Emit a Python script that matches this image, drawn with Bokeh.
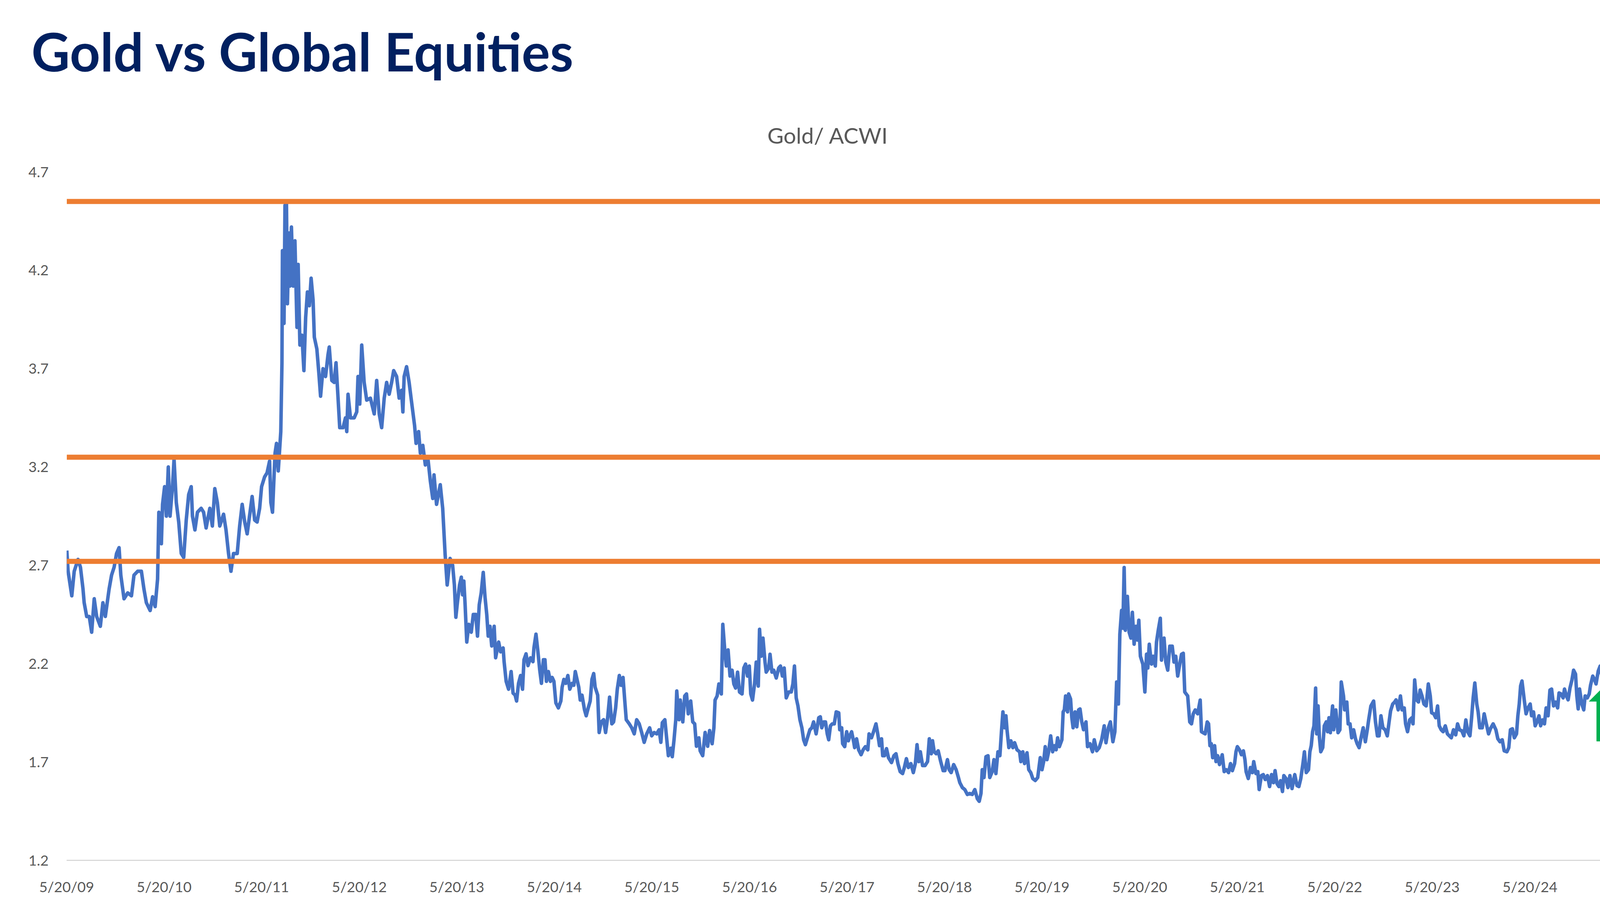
from datetime import datetime, timedelta
from bokeh.plotting import figure
from bokeh.models import Range1d, FixedTicker, Title, ColumnDataSource
from bokeh.embed import file_html
from bokeh.resources import INLINE

# ---------------- data (decimal year, Gold/ACWI ratio) ----------------
t_2009_2013 = [2009.383, 2009.396, 2009.434, 2009.459, 2009.498, 2009.523, 2009.549, 2009.561, 2009.587, 2009.613,
               2009.638, 2009.664, 2009.689, 2009.727, 2009.753, 2009.778, 2009.817, 2009.842, 2009.868, 2009.893,
               2009.919, 2009.937, 2009.970, 2010.008, 2010.046, 2010.072, 2010.110, 2010.148, 2010.174, 2010.199,
               2010.238, 2010.263, 2010.289, 2010.314, 2010.327, 2010.353, 2010.365, 2010.386, 2010.404, 2010.424,
               2010.442, 2010.467, 2010.483, 2010.506, 2010.531, 2010.557, 2010.582, 2010.608, 2010.633, 2010.659,
               2010.672, 2010.697, 2010.723, 2010.761, 2010.786, 2010.812, 2010.850, 2010.876, 2010.901, 2010.927,
               2010.952, 2010.991, 2011.016, 2011.042, 2011.067, 2011.093, 2011.131, 2011.156, 2011.182, 2011.208,
               2011.233, 2011.284, 2011.310, 2011.335, 2011.361, 2011.381, 2011.412, 2011.437, 2011.463, 2011.476,
               2011.493, 2011.519, 2011.534, 2011.552, 2011.578, 2011.590, 2011.595, 2011.611, 2011.621, 2011.636,
               2011.646, 2011.662, 2011.672, 2011.687, 2011.705, 2011.723, 2011.744, 2011.756, 2011.774, 2011.795,
               2011.815, 2011.833, 2011.851, 2011.871, 2011.889, 2011.909, 2011.922, 2011.948, 2011.968, 2011.986,
               2012.011, 2012.037, 2012.062, 2012.075, 2012.101, 2012.126, 2012.144, 2012.165, 2012.182, 2012.216,
               2012.241, 2012.254, 2012.267, 2012.292, 2012.330, 2012.356, 2012.369, 2012.387, 2012.407, 2012.432,
               2012.458, 2012.496, 2012.535, 2012.560, 2012.586, 2012.611, 2012.637, 2012.662, 2012.688, 2012.713,
               2012.734, 2012.764, 2012.790, 2012.815, 2012.828, 2012.841, 2012.866, 2012.892, 2012.912, 2012.930,
               2012.948, 2012.963, 2012.989, 2013.007, 2013.032, 2013.058, 2013.083, 2013.109, 2013.134, 2013.147,
               2013.173, 2013.211, 2013.236]
v_2009_2013 = [2.775, 2.67, 2.545, 2.67, 2.73, 2.69, 2.58, 2.51, 2.44, 2.44,
               2.36, 2.53, 2.44, 2.39, 2.51, 2.44, 2.58, 2.65, 2.69, 2.76,
               2.79, 2.65, 2.53, 2.56, 2.545, 2.65, 2.67, 2.67, 2.58, 2.51,
               2.47, 2.54, 2.49, 2.63, 2.97, 2.81, 3.01, 3.10, 2.95, 3.20,
               2.95, 3.10, 3.24, 3.02, 2.92, 2.76, 2.74, 2.93, 3.06, 3.10,
               2.95, 2.88, 2.97, 2.99, 2.97, 2.89, 2.99, 2.90, 3.09, 3.02,
               2.90, 2.96, 2.88, 2.76, 2.67, 2.76, 2.76, 2.90, 3.01, 2.92,
               2.86, 3.05, 2.93, 2.92, 2.99, 3.10, 3.15, 3.17, 3.23, 3.02,
               2.97, 3.27, 3.32, 3.18, 3.38, 3.73, 4.30, 3.93, 4.53, 4.55,
               4.03, 4.39, 4.12, 4.42, 4.12, 4.35, 3.91, 4.23, 3.82, 3.87,
               3.69, 3.96, 4.09, 4.02, 4.16, 4.05, 3.86, 3.80, 3.68, 3.56,
               3.70, 3.66, 3.77, 3.81, 3.64, 3.63, 3.73, 3.55, 3.40, 3.40,
               3.45, 3.38, 3.57, 3.45, 3.45, 3.48, 3.66, 3.52, 3.82, 3.63,
               3.54, 3.55, 3.47, 3.64, 3.47, 3.40, 3.55, 3.63, 3.57, 3.63,
               3.69, 3.66, 3.55, 3.59, 3.48, 3.66, 3.71, 3.63, 3.55, 3.48,
               3.41, 3.32, 3.38, 3.27, 3.31, 3.21, 3.25, 3.13, 3.04, 3.16,
               3.01, 3.11, 2.99]

t_2013_2017 = [2013.261, 2013.282, 2013.312, 2013.338, 2013.356, 2013.371, 2013.389, 2013.409, 2013.427, 2013.440,
               2013.453, 2013.466, 2013.483, 2013.504, 2013.529, 2013.550, 2013.575, 2013.593, 2013.611, 2013.631,
               2013.652, 2013.670, 2013.688, 2013.703, 2013.721, 2013.739, 2013.764, 2013.779, 2013.810, 2013.830,
               2013.856, 2013.866, 2013.887, 2013.912, 2013.938, 2013.958, 2013.979, 2013.994, 2014.014, 2014.035,
               2014.055, 2014.070, 2014.091, 2014.111, 2014.137, 2014.162, 2014.172, 2014.193, 2014.213, 2014.231,
               2014.249, 2014.269, 2014.285, 2014.300, 2014.320, 2014.341, 2014.359, 2014.377, 2014.397, 2014.423,
               2014.448, 2014.461, 2014.479, 2014.499, 2014.520, 2014.540, 2014.563, 2014.581, 2014.596, 2014.614,
               2014.632, 2014.647, 2014.665, 2014.691, 2014.708, 2014.729, 2014.749, 2014.767, 2014.785, 2014.800,
               2014.826, 2014.841, 2014.862, 2014.887, 2014.907, 2014.928, 2014.948, 2014.971, 2014.989, 2015.010,
               2015.027, 2015.048, 2015.066, 2015.086, 2015.104, 2015.119, 2015.150, 2015.175, 2015.201, 2015.226,
               2015.252, 2015.277, 2015.303, 2015.329, 2015.359, 2015.380, 2015.405, 2015.431, 2015.456, 2015.474,
               2015.489, 2015.515, 2015.533, 2015.551, 2015.576, 2015.591, 2015.609, 2015.627, 2015.637, 2015.660,
               2015.673, 2015.699, 2015.719, 2015.737, 2015.755, 2015.780, 2015.801, 2015.821, 2015.839, 2015.864,
               2015.877, 2015.903, 2015.928, 2015.954, 2015.974, 2016.000, 2016.018, 2016.030, 2016.051, 2016.069,
               2016.094, 2016.109, 2016.132, 2016.145, 2016.163, 2016.183, 2016.204, 2016.222, 2016.240, 2016.260,
               2016.280, 2016.306, 2016.324, 2016.342, 2016.362, 2016.380, 2016.395, 2016.413, 2016.434, 2016.451,
               2016.472, 2016.485, 2016.502, 2016.520, 2016.541, 2016.553, 2016.579, 2016.592, 2016.612, 2016.630,
               2016.656, 2016.681, 2016.699, 2016.719, 2016.737, 2016.758, 2016.783, 2016.809, 2016.826, 2016.842,
               2016.860, 2016.878, 2016.898, 2016.918, 2016.936, 2016.954, 2016.975, 2017.000, 2017.020, 2017.038,
               2017.064]
v_2013_2017 = [2.755, 2.60, 2.735, 2.70, 2.60, 2.436, 2.52, 2.60, 2.64, 2.55,
               2.62, 2.50, 2.31, 2.40, 2.36, 2.45, 2.45, 2.34, 2.50, 2.56,
               2.664, 2.54, 2.45, 2.34, 2.39, 2.29, 2.39, 2.23, 2.31, 2.26,
               2.28, 2.21, 2.11, 2.07, 2.16, 2.05, 2.04, 2.01, 2.10, 2.14,
               2.07, 2.22, 2.25, 2.19, 2.23, 2.21, 2.28, 2.35, 2.26, 2.17,
               2.10, 2.22, 2.22, 2.11, 2.16, 2.11, 2.13, 2.11, 2.00, 1.975,
               2.01, 2.08, 2.12, 2.10, 2.14, 2.07, 2.10, 2.09, 2.16, 2.12,
               2.08, 2.015, 2.04, 1.965, 1.935, 1.975, 2.01, 2.12, 2.15, 2.08,
               2.04, 1.85, 1.904, 1.915, 1.85, 1.925, 2.03, 1.894, 1.904, 1.975,
               2.07, 2.14, 2.09, 2.13, 2.01, 1.915, 1.894, 1.874, 1.843, 1.915,
               1.894, 1.85, 1.80, 1.843, 1.874, 1.833, 1.85, 1.843, 1.864, 1.80,
               1.90, 1.915, 1.823, 1.732, 1.77, 1.727, 1.813, 1.915, 2.061, 1.915,
               2.015, 1.904, 2.036, 2.046, 1.945, 2.01, 1.904, 1.894, 1.78, 1.823,
               1.757, 1.732, 1.85, 1.78, 1.86, 1.793, 1.874, 2.015, 2.036, 2.097,
               2.046, 2.40, 2.25, 2.188, 2.27, 2.137, 2.167, 2.097, 2.076, 2.157,
               2.056, 2.046, 2.178, 2.198, 2.137, 2.188, 2.046, 2.015, 2.097, 2.208,
               2.086, 2.375, 2.238, 2.33, 2.208, 2.157, 2.178, 2.248, 2.157, 2.167,
               2.127, 2.178, 2.188, 2.137, 2.178, 2.026, 2.056, 2.056, 2.097, 2.188,
               2.026, 1.985, 1.915, 1.874, 1.813, 1.788, 1.823, 1.864, 1.874, 1.904,
               1.843]

t_2017_2021 = [2017.091, 2017.107, 2017.122, 2017.142, 2017.160, 2017.178, 2017.193, 2017.211, 2017.229, 2017.250,
               2017.270, 2017.296, 2017.306, 2017.326, 2017.336, 2017.357, 2017.377, 2017.395, 2017.410, 2017.428,
               2017.449, 2017.459, 2017.479, 2017.500, 2017.525, 2017.546, 2017.569, 2017.594, 2017.607, 2017.632,
               2017.653, 2017.678, 2017.696, 2017.714, 2017.735, 2017.747, 2017.765, 2017.786, 2017.806, 2017.837,
               2017.862, 2017.883, 2017.903, 2017.926, 2017.951, 2017.969, 2017.990, 2018.010, 2018.036, 2018.061,
               2018.082, 2018.099, 2018.117, 2018.133, 2018.156, 2018.181, 2018.207, 2018.225, 2018.245, 2018.258,
               2018.275, 2018.296, 2018.316, 2018.342, 2018.367, 2018.385, 2018.411, 2018.429, 2018.449, 2018.475,
               2018.500, 2018.521, 2018.538, 2018.564, 2018.589, 2018.615, 2018.640, 2018.666, 2018.692, 2018.717,
               2018.737, 2018.755, 2018.768, 2018.786, 2018.806, 2018.827, 2018.845, 2018.870, 2018.888, 2018.908,
               2018.929, 2018.949, 2018.965, 2018.980, 2018.998, 2019.011, 2019.023, 2019.041, 2019.062, 2019.082,
               2019.100, 2019.125, 2019.151, 2019.164, 2019.184, 2019.202, 2019.227, 2019.245, 2019.266, 2019.286,
               2019.312, 2019.337, 2019.350, 2019.363, 2019.381, 2019.398, 2019.414, 2019.432, 2019.449, 2019.470,
               2019.490, 2019.508, 2019.526, 2019.541, 2019.559, 2019.585, 2019.598, 2019.610, 2019.623, 2019.643,
               2019.654, 2019.674, 2019.687, 2019.700, 2019.720, 2019.738, 2019.756, 2019.771, 2019.789, 2019.807,
               2019.832, 2019.848, 2019.873, 2019.899, 2019.917, 2019.942, 2019.968, 2019.993, 2020.019, 2020.037,
               2020.062, 2020.082, 2020.108, 2020.128, 2020.146, 2020.164, 2020.179, 2020.197, 2020.210, 2020.223,
               2020.235, 2020.256, 2020.274, 2020.292, 2020.307, 2020.325, 2020.343, 2020.358, 2020.373, 2020.389,
               2020.414, 2020.435, 2020.452, 2020.465, 2020.480, 2020.503, 2020.521, 2020.542, 2020.554, 2020.572,
               2020.593, 2020.605, 2020.631, 2020.649, 2020.669, 2020.690, 2020.715, 2020.733, 2020.751, 2020.771,
               2020.792, 2020.810, 2020.828, 2020.843, 2020.873, 2020.894, 2020.912, 2020.930, 2020.950, 2020.975,
               2021.001, 2021.014, 2021.052]
v_2017_2021 = [1.925, 1.93, 1.874, 1.904, 1.904, 1.843, 1.813, 1.884, 1.894, 1.894,
               1.955, 1.95, 1.864, 1.874, 1.793, 1.778, 1.854, 1.808, 1.833, 1.854,
               1.803, 1.773, 1.818, 1.762, 1.737, 1.762, 1.778, 1.762, 1.843, 1.823,
               1.854, 1.894, 1.843, 1.783, 1.818, 1.732, 1.732, 1.768, 1.722, 1.697,
               1.732, 1.742, 1.692, 1.651, 1.641, 1.672, 1.717, 1.672, 1.692, 1.646,
               1.692, 1.788, 1.702, 1.752, 1.682, 1.682, 1.702, 1.818, 1.742, 1.808,
               1.752, 1.742, 1.757, 1.702, 1.656, 1.656, 1.712, 1.661, 1.646, 1.687,
               1.661, 1.626, 1.595, 1.57, 1.56, 1.535, 1.54, 1.535, 1.56, 1.514,
               1.50, 1.54, 1.661, 1.621, 1.727, 1.732, 1.621, 1.651, 1.712, 1.641,
               1.752, 1.732, 1.854, 1.955, 1.874, 1.935, 1.859, 1.773, 1.808, 1.773,
               1.798, 1.762, 1.752, 1.702, 1.752, 1.692, 1.747, 1.661, 1.646, 1.616,
               1.606, 1.621, 1.672, 1.722, 1.661, 1.702, 1.778, 1.712, 1.752, 1.833,
               1.752, 1.783, 1.762, 1.823, 1.778, 1.813, 1.955, 1.965, 2.036, 1.955,
               2.046, 2.02, 1.925, 1.874, 1.955, 1.879, 1.965, 1.97, 1.904, 1.864,
               1.904, 1.778, 1.793, 1.752, 1.813, 1.757, 1.773, 1.813, 1.884, 1.798,
               1.874, 1.904, 1.803, 1.854, 2.107, 1.995, 2.35, 2.471, 2.38, 2.689,
               2.37, 2.542, 2.36, 2.33, 2.461, 2.299, 2.39, 2.32, 2.421, 2.238,
               2.198, 2.056, 2.248, 2.178, 2.299, 2.198, 2.238, 2.188, 2.31, 2.37,
               2.431, 2.218, 2.33, 2.208, 2.167, 2.289, 2.289, 2.208, 2.238, 2.137,
               2.198, 2.248, 2.253, 2.056, 2.036, 1.904, 1.894, 1.945, 1.965, 1.945,
               2.015, 1.854, 1.843]

t_2021_2025 = [2021.073, 2021.087, 2021.101, 2021.115, 2021.129, 2021.149, 2021.163, 2021.180, 2021.199, 2021.227,
               2021.247, 2021.269, 2021.292, 2021.312, 2021.331, 2021.354, 2021.368, 2021.382, 2021.404, 2021.424,
               2021.444, 2021.460, 2021.472, 2021.494, 2021.516, 2021.536, 2021.550, 2021.573, 2021.592, 2021.606,
               2021.629, 2021.648, 2021.668, 2021.691, 2021.713, 2021.733, 2021.752, 2021.769, 2021.789, 2021.808,
               2021.825, 2021.845, 2021.859, 2021.881, 2021.901, 2021.921, 2021.943, 2021.971, 2021.994, 2022.013,
               2022.033, 2022.055, 2022.070, 2022.089, 2022.112, 2022.126, 2022.140, 2022.154, 2022.168, 2022.185,
               2022.196, 2022.210, 2022.224, 2022.238, 2022.258, 2022.274, 2022.294, 2022.308, 2022.322, 2022.336,
               2022.359, 2022.370, 2022.392, 2022.415, 2022.434, 2022.448, 2022.471, 2022.482, 2022.505, 2022.519,
               2022.538, 2022.555, 2022.575, 2022.594, 2022.611, 2022.631, 2022.651, 2022.673, 2022.695, 2022.715,
               2022.729, 2022.752, 2022.780, 2022.799, 2022.819, 2022.836, 2022.855, 2022.875, 2022.898, 2022.920,
               2022.940, 2022.954, 2022.976, 2022.996, 2023.010, 2023.032, 2023.055, 2023.072, 2023.094, 2023.108,
               2023.128, 2023.150, 2023.173, 2023.184, 2023.201, 2023.220, 2023.240, 2023.257, 2023.276, 2023.296,
               2023.319, 2023.341, 2023.361, 2023.375, 2023.397, 2023.417, 2023.436, 2023.453, 2023.473, 2023.493,
               2023.515, 2023.537, 2023.557, 2023.577, 2023.599, 2023.622, 2023.641, 2023.661, 2023.684, 2023.706,
               2023.726, 2023.745, 2023.768, 2023.785, 2023.801, 2023.818, 2023.838, 2023.852, 2023.869, 2023.894,
               2023.914, 2023.936, 2023.959, 2023.978, 2024.006, 2024.034, 2024.054, 2024.076, 2024.099, 2024.119,
               2024.147, 2024.166, 2024.183, 2024.203, 2024.223, 2024.245, 2024.259, 2024.273, 2024.287, 2024.301,
               2024.324, 2024.343, 2024.363, 2024.385, 2024.399, 2024.419, 2024.436, 2024.455, 2024.475, 2024.492,
               2024.512, 2024.531, 2024.548, 2024.568, 2024.587, 2024.604, 2024.624, 2024.644, 2024.666, 2024.680,
               2024.700, 2024.722, 2024.736, 2024.756, 2024.773, 2024.792, 2024.812, 2024.829, 2024.849, 2024.862,
               2024.876, 2024.890, 2024.913, 2024.933, 2024.947, 2024.969, 2024.989, 2025.003, 2025.025, 2025.045,
               2025.059, 2025.081, 2025.101, 2025.115, 2025.129, 2025.143, 2025.160, 2025.177, 2025.188, 2025.199,
               2025.213, 2025.227, 2025.239, 2025.250, 2025.261, 2025.269, 2025.275]
v_2021_2025 = [1.904, 1.894, 1.783, 1.793, 1.722, 1.783, 1.702, 1.732, 1.687, 1.737,
               1.651, 1.661, 1.646, 1.692, 1.656, 1.692, 1.752, 1.778, 1.762, 1.737,
               1.757, 1.712, 1.651, 1.616, 1.672, 1.646, 1.702, 1.641, 1.651, 1.56,
               1.631, 1.636, 1.611, 1.631, 1.575, 1.636, 1.595, 1.656, 1.59, 1.575,
               1.605, 1.55, 1.631, 1.616, 1.57, 1.631, 1.565, 1.636, 1.58, 1.575,
               1.616, 1.692, 1.752, 1.646, 1.661, 1.752, 1.783, 1.854, 1.884, 2.076,
               1.843, 1.985, 1.823, 1.752, 1.773, 1.884, 1.904, 1.854, 1.925, 1.849,
               1.985, 1.864, 1.965, 1.849, 1.864, 2.107, 2.036, 1.965, 2.005, 1.894,
               1.894, 1.823, 1.864, 1.818, 1.793, 1.773, 1.823, 1.874, 1.803, 1.864,
               1.914, 1.985, 2.01, 1.904, 1.833, 1.833, 1.935, 1.874, 1.864, 1.833,
               1.909, 1.96, 1.995, 2.005, 2.016, 1.965, 2.036, 1.965, 1.975, 1.894,
               1.854, 1.914, 1.925, 1.894, 2.117, 2.016, 2.005, 2.066, 2.036, 1.995,
               1.985, 2.097, 2.036, 1.95, 1.945, 1.925, 1.985, 1.884, 1.864, 1.854,
               1.884, 1.843, 1.833, 1.823, 1.864, 1.838, 1.894, 1.864, 1.859, 1.833,
               1.914, 1.854, 1.833, 1.925, 2.026, 2.102, 1.995, 1.955, 1.874, 1.874,
               1.945, 1.894, 1.843, 1.869, 1.894, 1.864, 1.818, 1.803, 1.813, 1.757,
               1.752, 1.773, 1.864, 1.869, 1.823, 1.843, 1.935, 1.995, 2.087, 2.112,
               2.016, 1.945, 1.975, 1.995, 1.935, 1.955, 1.884, 1.904, 1.935, 1.884,
               1.914, 1.894, 1.975, 1.935, 2.066, 2.071, 1.985, 2.005, 1.975, 2.051,
               2.046, 2.026, 2.071, 2.036, 2.016, 2.076, 2.117, 2.167, 2.147, 2.036,
               1.97, 2.071, 1.995, 1.965, 2.036, 2.026, 2.046, 2.092, 2.137, 2.117,
               2.097, 2.162, 2.188, 2.147, 2.198, 2.238, 2.178, 2.269, 2.34, 2.39,
               2.32, 2.34, 2.461, 2.441, 2.522, 2.654, 2.659]

# reference levels (horizontal orange lines)
levels = [4.55, 3.25, 2.72]

# green arrow (decimal year of centre, value of tail / head base / tip, half widths in days)
arrow_t = 2025.139
arrow_tail, arrow_head_base, arrow_tip = 1.806, 2.0085, 2.083
arrow_head_half_days, arrow_shaft_half_days = 55, 27

# x tick labels
tick_years = list(range(2009, 2025))
tick_labels = ["5/20/%02d" % (y % 100) for y in tick_years]
y_ticks = [1.2, 1.7, 2.2, 2.7, 3.2, 3.7, 4.2, 4.7]

title_text = "Gold vs Global Equities"
subtitle_text = "Gold/ ACWI"

# ---------------- helpers ----------------
EPOCH = datetime(1970, 1, 1)


def dec_to_dt(t):
    y = int(t)
    start = datetime(y, 1, 1)
    end = datetime(y + 1, 1, 1)
    return start + (end - start) * (t - y)


def ms(dt):
    return (dt - EPOCH).total_seconds() * 1000.0


t_all = t_2009_2013 + t_2013_2017 + t_2017_2021 + t_2021_2025
v_all = v_2009_2013 + v_2013_2017 + v_2017_2021 + v_2021_2025
dates = [dec_to_dt(t) for t in t_all]

# layout (page pixels of the 4202x2323 reference)
PAGE_MARGIN = 8
FIG_W, FIG_H = 4186, 2300
FRAME_L, FRAME_R, FRAME_T, FRAME_B = 178, 4148, 448, 2211

x_start = datetime(2009, 5, 20)
x_end = dates[-1] + timedelta(days=1)
y_lo, y_hi = 1.2, 4.7

p = figure(width=FIG_W, height=FIG_H, x_axis_type="datetime",
           x_range=Range1d(x_start, x_end), y_range=Range1d(y_lo, y_hi),
           output_backend="svg", toolbar_location=None,
           min_border_left=FRAME_L - PAGE_MARGIN,
           min_border_right=FIG_W - (FRAME_R - PAGE_MARGIN),
           min_border_top=FRAME_T - PAGE_MARGIN,
           min_border_bottom=FIG_H - (FRAME_B - PAGE_MARGIN))
p.outline_line_color = None
p.xgrid.visible = False
p.ygrid.visible = False

# titles (subtitle nearest to the plot, main title above it)
p.add_layout(Title(text=subtitle_text, align="left", offset=1972 - FRAME_L,
                   text_font="Lato", text_font_size="57px", text_font_style="normal",
                   text_color="#595959", standoff=122), "above")
p.add_layout(Title(text=title_text, align="left", offset=88 - FRAME_L,
                   text_font="Lato", text_font_size="136px", text_font_style="bold",
                   text_color="#002060", standoff=74), "above")

label_color = "#595959"
tick_font = "Lato"

tick_ms = [int(ms(datetime(y, 5, 20))) for y in tick_years]
p.xaxis.ticker = FixedTicker(ticks=tick_ms)
p.xaxis.major_label_overrides = {k: lab for k, lab in zip(tick_ms, tick_labels)}
p.xaxis.axis_line_color = "#D9D9D9"
p.xaxis.axis_line_width = 3
p.xaxis.major_tick_line_color = None
p.xaxis.minor_tick_line_color = None
p.xaxis.major_label_text_font = tick_font
p.xaxis.major_label_text_font_size = "37px"
p.xaxis.major_label_text_color = label_color
p.xaxis.major_label_standoff = 38

p.yaxis.ticker = FixedTicker(ticks=y_ticks)
p.yaxis.axis_line_color = None
p.yaxis.major_tick_line_color = None
p.yaxis.minor_tick_line_color = None
p.yaxis.major_label_text_font = tick_font
p.yaxis.major_label_text_font_size = "37px"
p.yaxis.major_label_text_color = label_color
p.yaxis.major_label_standoff = 40

src = ColumnDataSource(dict(x=dates, y=v_all))
p.line("x", "y", source=src, line_color="#4472C4", line_width=9, line_join="round")

for lv in levels:
    p.line([dates[0], dates[-1]], [lv, lv], line_color="#ED7D31", line_width=13)

ct = dec_to_dt(arrow_t)
hw = timedelta(days=arrow_head_half_days)
sw = timedelta(days=arrow_shaft_half_days)
ax = [ct - sw, ct - sw, ct - hw, ct, ct + hw, ct + sw, ct + sw]
ay = [arrow_tail, arrow_head_base, arrow_head_base, arrow_tip, arrow_head_base, arrow_head_base, arrow_tail]
p.patch(ax, ay, fill_color="#00B050", line_color="#00B050", line_width=1)

open("out.html", "w").write(file_html(p, INLINE))
